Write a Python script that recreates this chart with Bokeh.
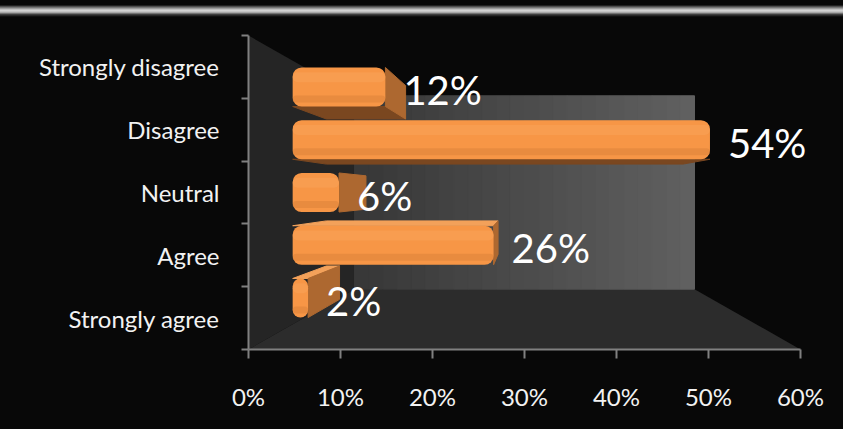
from bokeh.plotting import figure
from bokeh.layouts import column
from bokeh.models import Range1d, FixedTicker, NumeralTickFormatter, ColumnDataSource, Div
from bokeh.core.properties import value
from bokeh.embed import file_html
from bokeh.resources import INLINE

# ---------------- data ----------------
categories = ["Strongly agree", "Agree", "Neutral", "Disagree", "Strongly disagree"]
shares = [0.02, 0.26, 0.06, 0.54, 0.12]
x_ticks = [0.0, 0.1, 0.2, 0.3, 0.4, 0.5, 0.6]

# ---------------- geometry / style ----------------
X_MAX = x_ticks[-1]
N = len(categories)
CX, CY = X_MAX / 2, N / 2          # vanishing centre of the 3-D view
S_FRONT, S_BACK, S_WALL = 0.84, 0.718, 0.616   # perspective scale of bar front/back and back wall
BAR_H = 0.74
FONT = "Lato"
W = 843
TOP_H = 17
H = 429 - TOP_H
BG = "#080808"
PX_PER_UNIT = 920.0                 # frame pixels per 100 % on the x axis
X_END = X_MAX + 43 / PX_PER_UNIT    # frame runs on past 60 % so labels are not clipped


def proj(x, y, s):
    return CX + (x - CX) * s, CY + (y - CY) * s


def depth_range(lo, hi, c, s):
    return Range1d(c - (c - lo) / s, c + (hi - c) / s)


# ---------------- bevelled top edge of the chart area ----------------
bevel = Div(text="", width=W, height=TOP_H, margin=0,
            styles={"background": "linear-gradient(to bottom, #080808 0px, #080808 5px, "
                                  "#3a3a3a 6px, #8a8a8a 8px, #d2d2d2 10px, #d2d2d2 11px, "
                                  "#9a9a9a 13px, #4a4a4a 14px, #1a1a1a 16px, #080808 17px)"})

# ---------------- main chart ----------------
p = figure(width=W, height=H, output_backend="svg", toolbar_location=None,
           x_range=Range1d(0, X_END), y_range=Range1d(0, N),
           min_border_left=248, min_border_right=0, min_border_top=35 - TOP_H,
           min_border_bottom=80, margin=0,
           background_fill_color=BG, border_fill_color=BG, outline_line_color=None,
           styles={"background-color": BG})
p.extra_x_ranges = {"front": depth_range(0, X_END, CX, S_FRONT),
                    "wall": depth_range(0, X_END, CX, S_WALL)}
p.extra_y_ranges = {"front": depth_range(0, N, CY, S_FRONT),
                    "wall": depth_range(0, N, CY, S_WALL)}
p.xgrid.grid_line_color = None
p.ygrid.grid_line_color = None

# walls
bl = proj(0, 0, S_WALL)
tl = proj(0, N, S_WALL)
br = proj(X_MAX, 0, S_WALL)
p.patch([0, tl[0], bl[0], 0], [N, tl[1], bl[1], 0], fill_color="#252525", line_color=None)
p.patch([0, X_MAX, br[0], bl[0]], [0, 0, br[1], bl[1]], fill_color="#2c2c2c", line_color=None)

n_strips = 24
edges = [X_MAX * k / n_strips for k in range(n_strips + 1)]
c0, c1 = 0x38, 0x60
wall_cols = []
for k in range(n_strips):
    g = int(c0 + (c1 - c0) * k / (n_strips - 1))
    wall_cols.append("#%02x%02x%02x" % (g, g, g))
p.quad(left=edges[:-1], right=edges[1:], bottom=0, top=N, fill_color=wall_cols,
       line_color=wall_cols, line_width=1, x_range_name="wall", y_range_name="wall")

# bars
yc = [i + 0.5 for i in range(N)]
labels = ["%d%%" % round(v * 100) for v in shares]
src = ColumnDataSource(dict(cat=categories, v=shares, yc=yc, label=labels))

side_xs, side_ys, side_cols = [], [], []
for v, c in zip(shares, yc):
    y0, y1 = c - BAR_H / 2, c + BAR_H / 2
    if c > CY:   # bar above centre: underside visible
        pts = [proj(0, y0, S_FRONT), proj(v, y0, S_FRONT), proj(v, y0, S_BACK), proj(0, y0, S_BACK)]
        side_xs.append([q[0] for q in pts]); side_ys.append([q[1] for q in pts])
        side_cols.append("#7a4720")
    elif c < CY:  # bar below centre: top visible
        pts = [proj(0, y1, S_FRONT), proj(v, y1, S_FRONT), proj(v, y1, S_BACK), proj(0, y1, S_BACK)]
        side_xs.append([q[0] for q in pts]); side_ys.append([q[1] for q in pts])
        side_cols.append("#f3a15a")
    if v < CX:   # end face visible
        pts = [proj(v, y0, S_FRONT), proj(v, y0, S_BACK), proj(v, y1, S_BACK), proj(v, y1, S_FRONT)]
        side_xs.append([q[0] for q in pts]); side_ys.append([q[1] for q in pts])
        side_cols.append("#ad6830")

p.patches(side_xs, side_ys, fill_color=side_cols, line_color=side_cols, line_width=1)

p.hbar(y="yc", left=0, right="v", height=BAR_H, source=src, fill_color="#f79646",
       line_color=None, border_radius=9, x_range_name="front", y_range_name="front")
# soft cylinder shading
p.hbar(y=[c + 0.25 * BAR_H for c in yc], left=0, right=shares, height=0.26 * BAR_H,
       fill_color="#faa45a", fill_alpha=0.5, line_color=None, border_radius=6,
       x_range_name="front", y_range_name="front")
p.hbar(y=[c - 0.31 * BAR_H for c in yc], left=0, right=shares, height=0.18 * BAR_H,
       fill_color="#dc833a", fill_alpha=0.55, line_color=None, border_radius=6,
       x_range_name="front", y_range_name="front")

# data labels
p.text(x="v", y="yc", text="label", source=src, x_range_name="front", y_range_name="front",
       x_offset=18, y_offset=3, text_font=value(FONT), text_font_size="40px",
       text_color="#ffffff", text_align="left", text_baseline="middle")

# axes
axis_col = "#808080"
p.xaxis.bounds = (0, X_MAX)
p.xaxis.ticker = FixedTicker(ticks=x_ticks, minor_ticks=[])
p.xaxis.formatter = NumeralTickFormatter(format="0%")
p.xaxis.axis_line_color = axis_col
p.xaxis.axis_line_width = 2
p.xaxis.major_tick_line_color = axis_col
p.xaxis.major_tick_line_width = 2
p.xaxis.major_tick_out = 9
p.xaxis.major_tick_in = 0
p.xaxis.major_label_standoff = 23
p.xaxis.major_label_text_font = FONT
p.xaxis.major_label_text_font_size = "24px"
p.xaxis.major_label_text_color = "#f2f2f2"

p.yaxis.ticker = FixedTicker(ticks=yc, minor_ticks=list(range(N + 1)))
p.yaxis.major_label_overrides = {c: cat for c, cat in zip(yc, categories)}
p.yaxis.axis_line_color = axis_col
p.yaxis.axis_line_width = 2
p.yaxis.major_tick_line_color = None
p.yaxis.major_tick_out = 0
p.yaxis.major_tick_in = 0
p.yaxis.minor_tick_line_color = axis_col
p.yaxis.minor_tick_line_width = 2
p.yaxis.minor_tick_out = 7
p.yaxis.minor_tick_in = 0
p.yaxis.major_label_standoff = 22
p.yaxis.major_label_text_font = FONT
p.yaxis.major_label_text_font_size = "24px"
p.yaxis.major_label_text_color = "#f2f2f2"

layout = column(bevel, p, spacing=0)
open("out.html", "w").write(file_html(layout, INLINE))
